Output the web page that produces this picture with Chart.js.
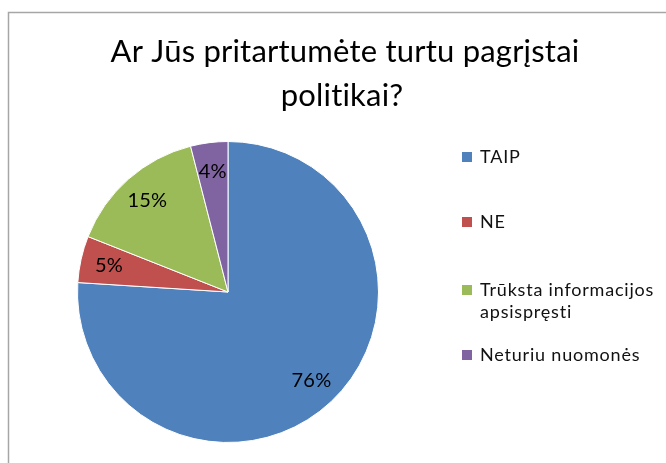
<!DOCTYPE html>
<html>
<head>
<meta charset="utf-8">
<script src="https://cdn.jsdelivr.net/npm/chart.js@4/dist/chart.umd.min.js"></script>
<style>
  html, body { margin: 0; padding: 0; background: #fff; }
  #wrap { width: 666px; height: 463px; }
</style>
</head>
<body>
<div id="wrap"><canvas id="opinion-chart"></canvas></div>
<script>
var titleLines = ["Ar Jūs pritartumėte turtu pagrįstai", "politikai?"];
var categories = ["TAIP", "NE", "Trūksta informacijos apsispręsti", "Neturiu nuomonės"];
var percents = [76, 5, 15, 4];
var colours = ["#4F81BD", "#C0504D", "#9BBB59", "#8064A2"];

var legendRows = [157, 222, 290, 355];

function wrapText(ctx, text, maxWidth) {
  var words = text.split(" "), lines = [], line = "";
  words.forEach(function(w) {
    var test = line ? line + " " + w : w;
    if (ctx.measureText(test).width > maxWidth && line) {
      lines.push(line);
      line = w;
    } else {
      line = test;
    }
  });
  lines.push(line);
  return lines;
}

var extras = {
  id: "extras",
  beforeDraw: function(chart) {
    var ctx = chart.ctx;
    ctx.save();
    ctx.strokeStyle = "#a6a6a6";
    ctx.lineWidth = 1.5;
    ctx.strokeRect(8.5, 12.5, 720, 520);
    ctx.restore();
  },
  afterDraw: function(chart) {
    var ctx = chart.ctx;
    ctx.save();
    ctx.letterSpacing = "0.2px"; // stops Lato's "ti" ligature
    // title
    ctx.fillStyle = "#000";
    ctx.textAlign = "center";
    ctx.textBaseline = "middle";
    ctx.font = "31px Lato";
    ctx.fillText(titleLines[0], 345, 52);
    ctx.fillText(titleLines[1], 342, 96);

    // data labels
    var meta = chart.getDatasetMeta(0);
    ctx.font = "20px Lato";
    meta.data.forEach(function(arc, i) {
      var mid = (arc.startAngle + arc.endAngle) / 2;
      var r = arc.outerRadius * 0.81;
      ctx.fillText(percents[i] + "%", arc.x + Math.cos(mid) * r, arc.y + Math.sin(mid) * r);
    });

    // legend
    ctx.textAlign = "left";
    ctx.font = "18px Lato";
    ctx.letterSpacing = "0.8px";
    categories.forEach(function(c, i) {
      var y = legendRows[i];
      ctx.fillStyle = colours[i];
      ctx.fillRect(462, y - 5, 10, 10);
      ctx.fillStyle = "#111";
      var lines = wrapText(ctx, c, 190);
      lines.forEach(function(l, k) {
        ctx.fillText(l, 480, y + k * 22);
      });
    });
    ctx.restore();
  }
};

new Chart(document.getElementById("opinion-chart"), {
  type: "pie",
  data: {
    labels: categories,
    datasets: [{
      data: percents,
      backgroundColor: colours,
      borderColor: "#ffffff",
      borderWidth: 1
    }]
  },
  options: {
    responsive: true,
    maintainAspectRatio: false,
    animation: false,
    layout: { padding: { left: 76, right: 286, top: 141, bottom: 20 } },
    plugins: {
      legend: { display: false },
      tooltip: { enabled: false }
    }
  },
  plugins: [extras]
});
</script>
</body>
</html>
